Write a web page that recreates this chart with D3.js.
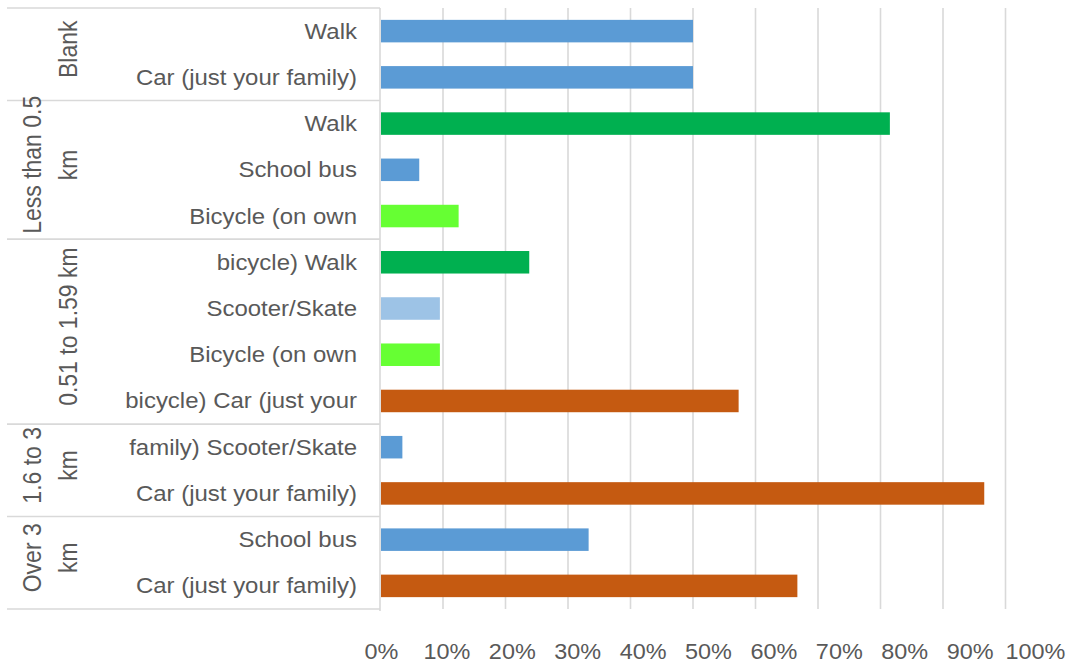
<!DOCTYPE html>
<html>
<head>
<meta charset="utf-8">
<script src="https://cdn.jsdelivr.net/npm/d3@7"></script>
<style>
  html, body { margin: 0; padding: 0; background: #ffffff; }
  svg { display: block; }
  text { font-family: "Liberation Sans", Arial, sans-serif; fill: #595959; }
</style>
</head>
<body>
<svg id="chart" width="1072" height="666"></svg>
<script>
// ---- data ----
const rowLabels = [
  "Walk", "Car (just your family)",
  "Walk", "School bus", "Bicycle (on own",
  "bicycle) Walk", "Scooter/Skate", "Bicycle (on own", "bicycle) Car (just your",
  "family) Scooter/Skate", "Car (just your family)",
  "School bus", "Car (just your family)"
];
const values = [0.50, 0.50, 0.815, 0.062, 0.125, 0.238, 0.095, 0.095, 0.573, 0.035, 0.966, 0.333, 0.667];
const barShade = [0, 0, 1, 0, 2, 1, 3, 2, 4, 0, 4, 0, 4];
const palette = ["#5B9BD5", "#00B050", "#66FF33", "#9DC3E6", "#C55A11"];
const groupLabels = [["Blank"], ["Less than 0.5", "km"], ["0.51 to 1.59 km"], ["1.6 to 3", "km"], ["Over 3", "km"]];
const groupSizes = [2, 3, 4, 2, 2];
const tickValues = [0, 0.1, 0.2, 0.3, 0.4, 0.5, 0.6, 0.7, 0.8, 0.9, 1.0];

// ---- layout ----
const svg = d3.select("#chart");
const pLeft = 380.5, pRight = 1005.5, pTop = 8, pBottom = 609;
const stretch = 1.09;     // slight horizontal text stretch seen in the reference
const rotStretch = 1.12;

const x = d3.scaleLinear().domain([0, 1]).range([pLeft, pRight]);
const xLab = d3.scaleLinear().domain([0, 1]).range([381, 1035]);
const idx = d3.range(rowLabels.length);
const y = d3.scaleBand().domain(idx).range([pTop, pBottom]).paddingInner(0.513).paddingOuter(0.2565);
const step = y.step();

// gridlines
svg.append("g").selectAll("line").data(tickValues.slice(1)).join("line")
  .attr("x1", d => x(d)).attr("x2", d => x(d))
  .attr("y1", pTop).attr("y2", pBottom)
  .attr("stroke", "#D9D9D9").attr("stroke-width", 1.6);

// bars
svg.append("g").selectAll("rect").data(idx).join("rect")
  .attr("x", x(0) + 0.5)
  .attr("y", i => y(i))
  .attr("width", i => x(values[i]) - x(0) - 0.5)
  .attr("height", y.bandwidth())
  .attr("fill", i => palette[barShade[i]]);

// vertical category axis line
svg.append("line")
  .attr("x1", 380).attr("x2", 380).attr("y1", pTop).attr("y2", pBottom + 2)
  .attr("stroke", "#D9D9D9").attr("stroke-width", 1.6);

// group separators
const bounds = [0];
groupSizes.forEach(s => bounds.push(bounds[bounds.length - 1] + s));
svg.append("g").selectAll("line").data(bounds).join("line")
  .attr("x1", 7).attr("x2", 380)
  .attr("y1", b => pTop + b * step).attr("y2", b => pTop + b * step)
  .attr("stroke", "#D9D9D9").attr("stroke-width", 1.6);

// row labels
svg.append("g").selectAll("text").data(idx).join("text")
  .attr("transform", i => `translate(357,${y(i) + y.bandwidth() / 2}) scale(${stretch},1)`)
  .attr("text-anchor", "end")
  .attr("dy", 7.5)
  .style("font-size", "22px")
  .text(i => rowLabels[i]);

// group labels (rotated)
const gLab = svg.append("g");
groupLabels.forEach((lines, g) => {
  const cy = pTop + (bounds[g] + bounds[g + 1]) / 2 * step - 5;
  lines.forEach((ln, k) => {
    const cx = 68.5 - (lines.length - 1 - k) * 36.5;
    gLab.append("text")
      .attr("transform", `translate(${cx},${cy}) scale(${rotStretch},1) rotate(-90)`)
      .attr("text-anchor", "middle")
      .attr("dy", 8)
      .style("font-size", "23px")
      .text(ln);
  });
});

// value axis labels
const ax = svg.append("g").attr("transform", "translate(0,644)")
  .call(d3.axisBottom(xLab).tickValues(tickValues).tickFormat(d3.format(".0%")).tickSize(0).tickPadding(0));
ax.select(".domain").remove();
ax.selectAll("text")
  .attr("fill", "#595959")
  .style("font-family", '"Liberation Sans", Arial, sans-serif')
  .style("font-size", "21.5px")
  .attr("transform", `scale(${stretch},1)`)
  .attr("x", 0);
ax.selectAll(".tick text").attr("text-anchor", "middle");
</script>
</body>
</html>
